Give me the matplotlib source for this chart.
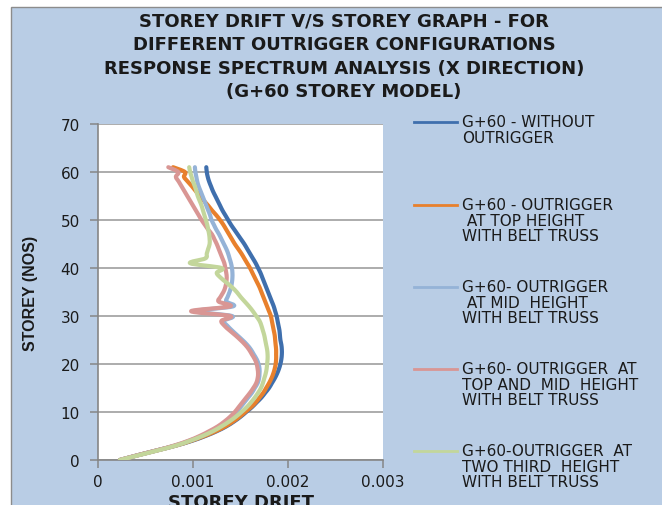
import numpy as np
import matplotlib
matplotlib.use("Agg")
import matplotlib.pyplot as plt
from matplotlib.path import Path
from matplotlib.patches import PathPatch, Rectangle
from matplotlib.lines import Line2D
from matplotlib import font_manager

# ---------------- data ----------------
STOREYS = list(range(0, 62))

# storey drift values, in units of 0.001
WITHOUT_OUTRIGGER = [
    0.23, 0.42, 0.62, 0.82, 0.99, 1.13, 1.25, 1.35, 1.43, 1.50,
    1.56, 1.62, 1.67, 1.72, 1.76, 1.80, 1.83, 1.86, 1.885, 1.905,
    1.92, 1.93, 1.935, 1.935, 1.93, 1.92, 1.915, 1.91, 1.90, 1.89,
    1.88, 1.865, 1.85, 1.83, 1.81, 1.79, 1.77, 1.75, 1.73, 1.71,
    1.685, 1.66, 1.63, 1.60, 1.57, 1.54, 1.505, 1.47, 1.435, 1.40,
    1.37, 1.34, 1.31, 1.285, 1.26, 1.235, 1.21, 1.19, 1.17, 1.155,
    1.145, 1.14]

TOP_OUTRIGGER = [
    0.23, 0.42, 0.62, 0.82, 0.98, 1.12, 1.24, 1.34, 1.42, 1.49,
    1.55, 1.61, 1.66, 1.70, 1.74, 1.77, 1.80, 1.825, 1.845, 1.86,
    1.87, 1.875, 1.875, 1.875, 1.87, 1.865, 1.86, 1.85, 1.84, 1.83,
    1.82, 1.80, 1.78, 1.76, 1.74, 1.72, 1.70, 1.675, 1.65, 1.625,
    1.60, 1.57, 1.54, 1.51, 1.475, 1.44, 1.41, 1.38, 1.35, 1.32,
    1.285, 1.245, 1.20, 1.16, 1.115, 1.075, 1.03, 0.99, 0.945, 0.905,
    0.915, 0.79]

MID_OUTRIGGER = [
    0.23, 0.42, 0.62, 0.81, 0.96, 1.09, 1.19, 1.28, 1.35, 1.41,
    1.46, 1.50, 1.54, 1.58, 1.62, 1.65, 1.68, 1.695, 1.70, 1.70,
    1.69, 1.67, 1.64, 1.61, 1.57, 1.52, 1.465, 1.41, 1.36, 1.32,
    1.41, 1.03, 1.42, 1.35, 1.365, 1.385, 1.40, 1.41, 1.415, 1.415,
    1.41, 1.40, 1.385, 1.37, 1.35, 1.325, 1.30, 1.275, 1.245, 1.22,
    1.195, 1.18, 1.16, 1.14, 1.12, 1.10, 1.08, 1.06, 1.045, 1.035,
    1.025, 1.02]

TOP_MID_OUTRIGGER = [
    0.23, 0.42, 0.62, 0.80, 0.95, 1.07, 1.17, 1.26, 1.33, 1.39,
    1.44, 1.48, 1.52, 1.56, 1.60, 1.635, 1.665, 1.68, 1.685, 1.68,
    1.67, 1.65, 1.62, 1.59, 1.55, 1.50, 1.445, 1.385, 1.33, 1.30,
    1.39, 0.98, 1.39, 1.27, 1.29, 1.32, 1.34, 1.35, 1.355, 1.35,
    1.34, 1.33, 1.31, 1.29, 1.27, 1.25, 1.225, 1.20, 1.16, 1.125,
    1.09, 1.06, 1.03, 1.00, 0.97, 0.94, 0.91, 0.88, 0.85, 0.82,
    0.845, 0.74]

TWO_THIRD_OUTRIGGER = [
    0.23, 0.43, 0.63, 0.82, 0.97, 1.10, 1.21, 1.30, 1.38, 1.45,
    1.51, 1.565, 1.61, 1.65, 1.685, 1.715, 1.735, 1.75, 1.765, 1.775,
    1.78, 1.785, 1.785, 1.78, 1.77, 1.76, 1.75, 1.735, 1.72, 1.70,
    1.665, 1.63, 1.59, 1.545, 1.50, 1.46, 1.41, 1.35, 1.29, 1.25,
    1.30, 0.97, 1.13, 1.145, 1.16, 1.175, 1.175, 1.17, 1.16, 1.15,
    1.135, 1.12, 1.105, 1.09, 1.07, 1.05, 1.035, 1.02, 1.00, 0.985,
    0.97, 0.96]

SERIES = [WITHOUT_OUTRIGGER, TOP_OUTRIGGER, MID_OUTRIGGER,
          TOP_MID_OUTRIGGER, TWO_THIRD_OUTRIGGER]
LABELS = [
    "G+60 - WITHOUT\nOUTRIGGER",
    "G+60 - OUTRIGGER\n AT TOP HEIGHT\nWITH BELT TRUSS",
    "G+60- OUTRIGGER\n AT MID  HEIGHT\nWITH BELT TRUSS",
    "G+60- OUTRIGGER  AT\nTOP AND  MID  HEIGHT\nWITH BELT TRUSS",
    "G+60-OUTRIGGER  AT\nTWO THIRD  HEIGHT\nWITH BELT TRUSS",
]
COLORS = ["#3F6FAD", "#E8802C", "#95B3D7", "#D99694", "#C3D69B"]

X_TICKS = [0, 0.001, 0.002, 0.003]
X_TICK_LABELS = ["0", "0.001", "0.002", "0.003"]
Y_TICKS = [0, 10, 20, 30, 40, 50, 60, 70]

TITLE = ("STOREY DRIFT V/S STOREY GRAPH - FOR\n"
         "DIFFERENT OUTRIGGER CONFIGURATIONS\n"
         "RESPONSE SPECTRUM ANALYSIS (X DIRECTION)\n"
         "(G+60 STOREY MODEL)")

# ---------------- figure ----------------
W, H = 662, 506
fig = plt.figure(figsize=(W / 100, H / 100), dpi=100, facecolor="white")


def fx(px):
    return px / W


def fy(py):
    return 1 - py / H


fig.patches.append(Rectangle((fx(11), -0.02), 1.05, fy(8) + 0.02,
                             transform=fig.transFigure, facecolor="#B9CDE5",
                             edgecolor="#8C8C8C", lw=1.0, zorder=-10))

ax = fig.add_axes([fx(98), fy(461), (383 - 98) / W, (461 - 125) / H])
ax.set_facecolor("white")
ax.set_zorder(1)


def smooth_path(xs, ys):
    P = np.column_stack([xs, ys])
    n = len(P)
    verts = [P[0]]
    codes = [Path.MOVETO]
    for i in range(n - 1):
        p0 = P[i - 1] if i > 0 else P[i]
        p1 = P[i]
        p2 = P[i + 1]
        p3 = P[i + 2] if i + 2 < n else P[i + 1]
        c1 = p1 + (p2 - p0) / 6.0
        c2 = p2 - (p3 - p1) / 6.0
        verts += [c1, c2, p2]
        codes += [Path.CURVE4] * 3
    return Path(verts, codes)


for vals, col in zip(SERIES, COLORS):
    xs = np.asarray(vals) * 1e-3
    path = smooth_path(xs, np.asarray(STOREYS, dtype=float))
    ax.add_patch(PathPatch(path, fill=False, edgecolor=col, lw=3.0,
                           capstyle="round", joinstyle="round", zorder=3))

ax.set_xlim(0, 0.003)
ax.set_ylim(0, 70)
ax.set_xticks(X_TICKS)
ax.set_xticklabels(X_TICK_LABELS)
ax.set_yticks(Y_TICKS)
ax.yaxis.grid(True, color="#A6A6A6", lw=1.3, zorder=1)
ax.set_axisbelow(True)
for s in ["top", "right"]:
    ax.spines[s].set_visible(False)
for s in ["left", "bottom"]:
    ax.spines[s].set_color("#868686")
    ax.spines[s].set_linewidth(1.2)
ax.tick_params(axis="both", direction="out", length=6, width=1.1,
               color="#868686", labelsize=11, labelcolor="#1A1A1A")
ax.tick_params(axis="y", pad=7)
ax.tick_params(axis="x", pad=4)

# pick a narrow family for the rotated axis title if one exists
available = {f.name for f in font_manager.fontManager.ttflist}
narrow = [f for f in ["Liberation Sans Narrow", "DejaVu Sans Condensed",
                      "Liberation Sans"] if f in available]
narrow = narrow[:1] + ["DejaVu Sans"]

# titles
fig.text(fx(344), fy(13), TITLE, ha="center", va="top", fontsize=13,
         fontweight="bold", linespacing=1.39, color="#1A1A1A",
         family=["DejaVu Sans"])
fig.text(fx(30), fy(293), "STOREY (NOS)", rotation=90, ha="center",
         va="center", fontsize=11.5, fontweight="bold", color="#1A1A1A",
         family=narrow)
fig.text(fx(240.5), fy(494), "STOREY DRIFT", ha="center", va="top",
         fontsize=13, fontweight="bold", color="#1A1A1A")

# legend (manual, matching Excel layout)
LEG_Y = [123, 206, 288, 370, 452]
for lab, col, ly in zip(LABELS, COLORS, LEG_Y):
    fig.lines.append(Line2D([fx(414), fx(457)], [fy(ly), fy(ly)],
                            transform=fig.transFigure, color=col, lw=2.0))
    fig.text(fx(462), fy(ly - 8), lab, ha="left", va="top", fontsize=11,
             linespacing=1.05, color="#1A1A1A")

fig.savefig("out.png", dpi=100, facecolor="white")
